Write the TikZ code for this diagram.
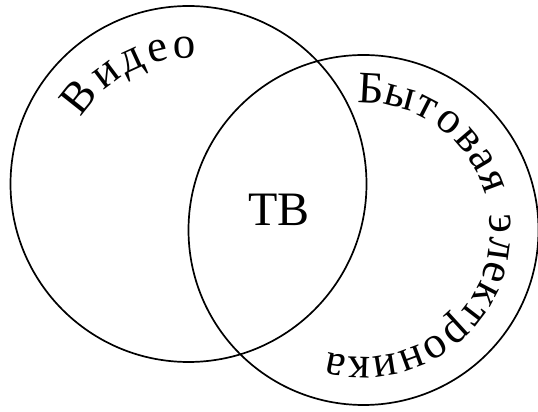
\documentclass[tikz,border=0pt]{standalone}
\usepackage{fontspec}
\setmainfont{Liberation Serif}
\tikzset{
  setcircle/.style={draw, circle, line width=1.7pt, inner sep=0pt},
  letter/.style={font=\fontsize{45}{45}\selectfont, inner sep=0pt, anchor=base}
}
\begin{document}
\begin{tikzpicture}[x=1pt,y=1pt]
\useasboundingbox (0,0) rectangle (538,412);
\node[setcircle, minimum size=356pt] (video) at (188.5,228) {};
\node[setcircle, minimum size=350pt] (bytel) at (363.5,182) {};
\node[font=\fontsize{48}{48}\selectfont, inner sep=0pt] (tv) at (279,202) {ТВ};
\foreach \ch/\a [count=\i] in {В/141.6, и/126.8, д/114.7, е/103.1, о/91.5}
  \node[letter, rotate=\a-90] (v\i) at ([shift={(\a:126)}]video.center) {\ch};
\foreach \ch/\a [count=\i] in {Б/86.9, ы/74.8, т/62.8, о/51.6, в/40.6, а/30.7, я/20.6,
    э/2.5, л/-7.8, е/-17.7, к/-27.6, т/-37.5, р/-47.6, о/-58.3, н/-69.5, и/-80.9, к/-91.8, а/-101.9}
  \node[letter, rotate=\a-90] (b\i) at ([shift={(\a:127)}]bytel.center) {\ch};
\end{tikzpicture}
\end{document}
